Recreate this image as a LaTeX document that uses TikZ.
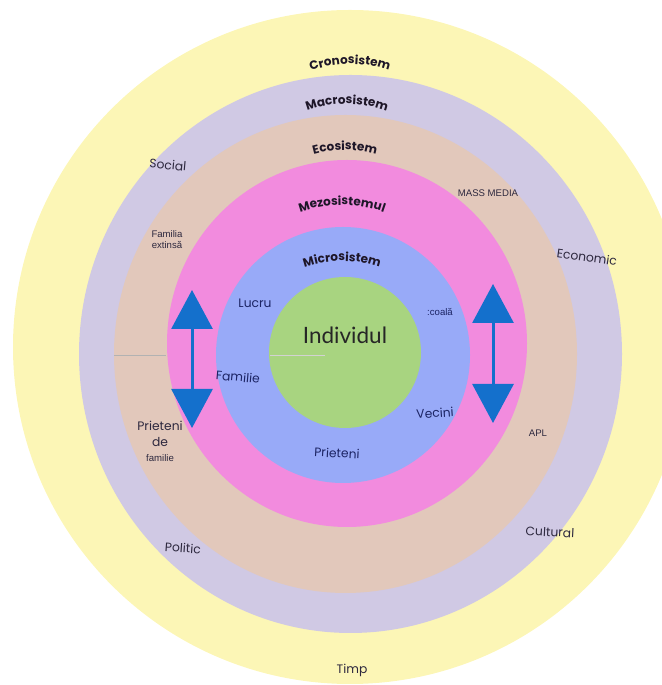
\documentclass[tikz,border=0pt]{standalone}
\usepackage{fontspec}
\setmainfont{Poppins}
\newfontfamily\arialfont{Liberation Sans}
\newfontfamily\centrefont{Lato}
\usetikzlibrary{arrows.meta,decorations.text}

\definecolor{cronocol}{RGB}{252,246,182}
\definecolor{macrocol}{RGB}{208,201,228}
\definecolor{ecocol}{RGB}{226,200,187}
\definecolor{mezocol}{RGB}{242,139,222}
\definecolor{microcol}{RGB}{152,170,248}
\definecolor{indivcol}{RGB}{168,212,128}
\definecolor{arrowblue}{RGB}{20,112,204}
\definecolor{titletext}{RGB}{30,22,40}
\definecolor{labeltext}{RGB}{45,40,62}
\definecolor{innertext}{RGB}{28,36,100}

\tikzset{
	ringtitle/.style={decorate,
		decoration={text along path, text align=center, text color=titletext,
			text={|\fontsize{12}{14}\selectfont\bfseries|#1}}},
	outerlabel/.style={font=\fontsize{12.3}{14}\selectfont, text=labeltext},
	smalllabel/.style={font=\arialfont\fontsize{9.6}{11}\selectfont, text=labeltext, align=center},
	innerlabel/.style={font=\fontsize{12.3}{14}\selectfont, text=innertext},
	bigarrow/.style={arrowblue, line width=3pt,
		{Triangle[length=39pt,width=41pt]}-{Triangle[length=39pt,width=41pt]}},
	seam/.style={gray!60, line width=0.5pt}
}

\begin{document}
\begin{tikzpicture}[x=1pt,y=1pt]
	\useasboundingbox (0,0) rectangle (661,685);
	% rings, outside in
	\fill[cronocol] (350,338) ellipse [x radius=337, y radius=337];
	\fill[macrocol] (350.5,331) ellipse [x radius=271.5, y radius=279];
	\fill[ecocol] (345.5,331) ellipse [x radius=231.5, y radius=239];
	\fill[mezocol] (347,341.5) ellipse [x radius=180, y radius=183.5];
	\fill[microcol] (343,330) ellipse [x radius=127, y radius=128];
	\fill[indivcol] (345,332.5) ellipse [x radius=76, y radius=75.5];
	\draw[seam] (114,330) -- (166,330);
	\draw[seam, gray!35] (270,330) -- (325,330);

	% ring titles
	\path[ringtitle={Cronosistem}] (350,506) ++(140:115) arc[start angle=140, end angle=40, radius=115];
	\path[ringtitle={Macrosistem}] (347,466) ++(140:115) arc[start angle=140, end angle=40, radius=115];
	\path[ringtitle={Ecosistem}] (345,420) ++(140:115) arc[start angle=140, end angle=40, radius=115];
	\path[ringtitle={Mezosistemul}] (342,355) ++(140:125) arc[start angle=140, end angle=40, radius=125];
	\path[ringtitle={Microsistem}] (342,309) ++(140:115) arc[start angle=140, end angle=40, radius=115];

	% labels
	\node[outerlabel, rotate=-5] (social) at (168,520) {Social};
	\node[outerlabel, rotate=-8] (economic) at (587,428) {Economic};
	\node[outerlabel, rotate=-4] (politic) at (183,137) {Politic};
	\node[outerlabel, rotate=-3] (cultural) at (550,153) {Cultural};
	\node[outerlabel] (timp) at (352,15) {Timp};
	\node[smalllabel] (extinsa) at (167,445) {Familia\\extinsă};
	\node[smalllabel] (media) at (488,492) {MASS MEDIA};
	\node[smalllabel] (apl) at (538,252) {APL};
	\node[outerlabel, align=center, text=labeltext] (prietfam) at (160,244)
		{Prieteni\\[2pt]de\\[1pt]{\arialfont\fontsize{9.6}{11}\selectfont familie}};
	\node[innerlabel] (lucru) at (255,382) {Lucru};
	\node[smalllabel, text=innertext] (scoala) at (440,373) {:coală};
	\node[innerlabel, rotate=-5] (familie) at (238,308) {Familie};
	\node[innerlabel, rotate=4] (vecini) at (435,272) {Vecini};
	\node[innerlabel, rotate=-3] (prieteni) at (337,232) {Prieteni};
	\node[font=\centrefont\fontsize{22.5}{26}\selectfont, text=black!85] (individ) at (345,350) {Individul};

	% double arrows
	\coordinate (lefttop) at (192,395);
	\coordinate (leftbot) at (192,257);
	\coordinate (righttop) at (493,401);
	\coordinate (rightbot) at (493,262);
	\draw[bigarrow] (lefttop) -- (leftbot);
	\draw[bigarrow] (righttop) -- (rightbot);
\end{tikzpicture}
\end{document}
